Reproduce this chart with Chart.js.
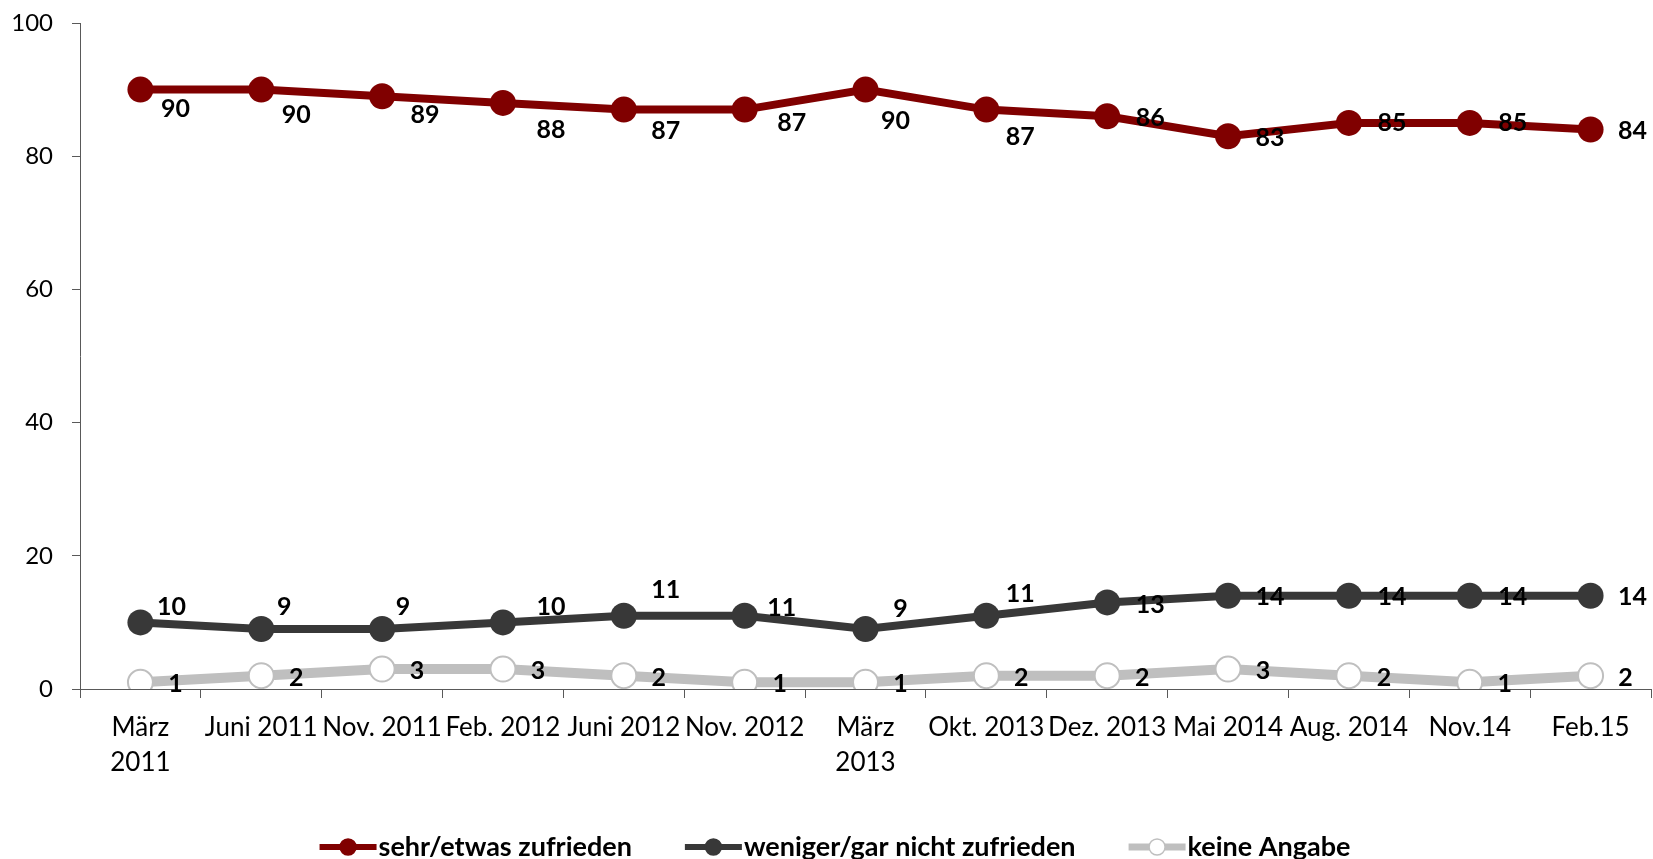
<!DOCTYPE html>
<html>
<head>
<meta charset="utf-8">
<script src="https://cdn.jsdelivr.net/npm/chart.js@4/dist/chart.umd.min.js"></script>
<style>
  html, body { margin: 0; padding: 0; background: #fff; }
  #wrap { width: 1653px; height: 859px; }
</style>
</head>
<body>
<div id="wrap"><canvas id="chart" width="1653" height="859"></canvas></div>
<script>
'use strict'

// data
var categories = [['März', '2011'], 'Juni 2011', 'Nov. 2011', 'Feb. 2012', 'Juni 2012',
  'Nov. 2012', ['März', '2013'], 'Okt. 2013', 'Dez. 2013', 'Mai 2014', 'Aug. 2014',
  'Nov.14', 'Feb.15']
var zufrieden = [90, 90, 89, 88, 87, 87, 90, 87, 86, 83, 85, 85, 84]
var nichtZufrieden = [10, 9, 9, 10, 11, 11, 9, 11, 13, 14, 14, 14, 14]
var keineAngabe = [1, 2, 3, 3, 2, 1, 1, 2, 2, 3, 2, 1, 2]
var yMin = 0
var yMax = 100
var yStep = 20
var seriesNames = ['sehr/etwas zufrieden', 'weniger/gar nicht zufrieden', 'keine Angabe']

// label placement relative to the point (dx, dy), like the original
var labelShift = [
  [[35, 19], [35, 25], [43, 19], [48, 27], [42, 21], [47, 13], [30, 31], [34, 27],
   [43, 2], [42, 2], [43, 0], [43, 0], [42, 1]],
  [[31, -15], [23, -22], [21, -22], [48, -15], [42, -26], [37, -8], [35, -20], [34, -22],
   [43, 3], [42, 1], [43, 1], [43, 1], [42, 1]],
  [[35, 2], [35, 2], [35, 2], [35, 2], [35, 2], [35, 2], [35, 2], [35, 2],
   [35, 2], [35, 2], [35, 2], [35, 2], [35, 2]]
]

var FONT = 'Lato, "Open Sans", sans-serif'
var RED = '#800000'
var DARK = '#383838'
var LIGHT = '#BFBFBF'

var valueLabels = {
  id: 'valueLabels',
  afterDatasetsDraw: function (chart) {
    var ctx = chart.ctx
    ctx.save()
    ctx.font = 'bold 25px ' + FONT
    ctx.fillStyle = '#000'
    ctx.textAlign = 'center'
    ctx.textBaseline = 'middle'
    chart.data.datasets.forEach(function (ds, d) {
      var meta = chart.getDatasetMeta(d)
      meta.data.forEach(function (pt, i) {
        var s = labelShift[d][i]
        ctx.fillText(String(ds.data[i]), pt.x + s[0], pt.y + s[1])
      })
    })
    ctx.restore()
  }
}

var lineLegend = {
  id: 'lineLegend',
  afterDraw: function (chart) {
    var ctx = chart.ctx
    var y = 847
    var symW = 57
    var gap = 53
    ctx.save()
    ctx.font = 'bold 27px ' + FONT
    var widths = chart.data.datasets.map(function (ds) { return ctx.measureText(ds.label).width })
    var total = 0
    widths.forEach(function (w) { total += symW + 2 + w })
    total += gap * (widths.length - 1)
    var x = 835 - total / 2
    chart.data.datasets.forEach(function (ds, d) {
      ctx.strokeStyle = ds.borderColor
      ctx.lineWidth = d === 2 ? 7 : 6
      ctx.beginPath()
      ctx.moveTo(x, y)
      ctx.lineTo(x + symW, y)
      ctx.stroke()
      ctx.beginPath()
      ctx.arc(x + symW / 2, y, 8, 0, Math.PI * 2)
      ctx.fillStyle = ds.pointBackgroundColor
      ctx.fill()
      ctx.lineWidth = 1.5
      ctx.strokeStyle = ds.pointBorderColor
      ctx.stroke()
      ctx.fillStyle = '#000'
      ctx.textAlign = 'left'
      ctx.textBaseline = 'middle'
      ctx.fillText(ds.label, x + symW + 2, y)
      x += symW + 2 + widths[d] + gap
    })
    ctx.restore()
  }
}

var ctx = document.getElementById('chart').getContext('2d')
var chart = new Chart(ctx, {
  type: 'line',
  data: {
    labels: categories,
    datasets: [
      {
        label: seriesNames[0],
        data: zufrieden,
        borderColor: RED,
        borderWidth: 8,
        pointRadius: 13,
        pointBackgroundColor: RED,
        pointBorderColor: RED,
        pointBorderWidth: 0
      },
      {
        label: seriesNames[1],
        data: nichtZufrieden,
        borderColor: DARK,
        borderWidth: 8,
        pointRadius: 13,
        pointBackgroundColor: DARK,
        pointBorderColor: DARK,
        pointBorderWidth: 0
      },
      {
        label: seriesNames[2],
        data: keineAngabe,
        borderColor: LIGHT,
        borderWidth: 10,
        pointRadius: 12.5,
        pointBackgroundColor: '#fff',
        pointBorderColor: LIGHT,
        pointBorderWidth: 2
      }
    ]
  },
  options: {
    responsive: false,
    animation: false,
    devicePixelRatio: 1,
    layout: { autoPadding: false, padding: { top: 23, right: 2, bottom: 0, left: 0 } },
    elements: { line: { tension: 0 } },
    plugins: {
      legend: { display: false },
      tooltip: { enabled: false }
    },
    scales: {
      x: {
        offset: true,
        grid: {
          offset: true,
          drawOnChartArea: false,
          tickLength: 9,
          color: '#595959'
        },
        border: { color: '#595959', width: 1 },
        ticks: {
          autoSkip: false,
          maxRotation: 0,
          padding: 12,
          color: '#000',
          font: { family: FONT, size: 26, lineHeight: 1.35 }
        },
        afterFit: function (scale) {
          scale.height = 170
          scale.paddingLeft = 0
          scale.paddingRight = 0
        }
      },
      y: {
        min: yMin,
        max: yMax,
        ticks: {
          stepSize: yStep,
          padding: 19,
          color: '#000',
          font: { family: FONT, size: 24 }
        },
        grid: {
          drawOnChartArea: false,
          tickLength: 8,
          color: '#595959'
        },
        border: { color: '#595959', width: 1 },
        afterFit: function (scale) {
          scale.width = 80
          scale.paddingTop = 0
          scale.paddingBottom = 0
        }
      }
    }
  },
  plugins: [valueLabels, lineLegend]
})
</script>
</body>
</html>
